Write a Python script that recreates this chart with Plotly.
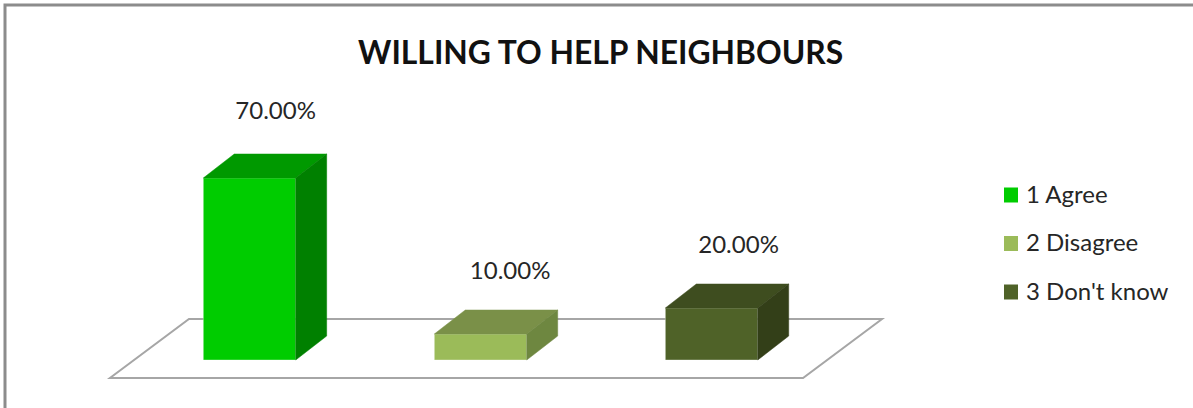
import plotly.graph_objects as go

# Survey responses
categories = ["1 Agree", "2 Disagree", "3 Don't know"]
percentages = [70, 10, 20]
front_colors = ["#00CC00", "#9BBB59", "#4F6228"]
top_colors = ["#009900", "#7A9048", "#3E4D1F"]
side_colors = ["#008000", "#6E8740", "#333F18"]
positions = [1, 2, 3]
chart_title = "WILLING TO HELP NEIGHBOURS"

FIG_W, FIG_H = 1193, 408
BAR_WIDTH = 0.4
DEPTH_X = 0.134   # horizontal reach of the extruded faces, in x units
DEPTH_Y = 9.23    # vertical reach of the extruded faces, in percentage points
X_RANGE = [-0.08, 5.084]
Y_RANGE = [-18.46, 138.46]
LABEL_SHIFT_X = [0.113, 0.128, 0.117]
LABEL_LIFT = [25.0, 23.5, 23.5]
FONT = "Lato, Carlito, Calibri, sans-serif"
GRID = "#A6A6A6"

fig = go.Figure()

# Front faces
for pos, value, name, color in zip(positions, percentages, categories, front_colors):
    fig.add_trace(go.Bar(
        x=[pos], y=[value], width=BAR_WIDTH, name=name,
        marker=dict(color=color, line=dict(color="rgba(255,255,255,0.35)", width=1)),
        hoverinfo="skip", showlegend=False,
    ))

# Extruded top and side faces derived from each bar's value
for pos, value, top, side in zip(positions, percentages, top_colors, side_colors):
    left, right = pos - BAR_WIDTH / 2, pos + BAR_WIDTH / 2
    fig.add_trace(go.Scatter(
        x=[left, right, right + DEPTH_X, left + DEPTH_X, left],
        y=[value, value, value + DEPTH_Y, value + DEPTH_Y, value],
        fill="toself", fillcolor=top, mode="lines", line=dict(color=top, width=0.5),
        hoverinfo="skip", showlegend=False,
    ))
    fig.add_trace(go.Scatter(
        x=[right, right + DEPTH_X, right + DEPTH_X, right, right],
        y=[0, DEPTH_Y, value + DEPTH_Y, value, 0],
        fill="toself", fillcolor=side, mode="lines", line=dict(color=side, width=0.5),
        hoverinfo="skip", showlegend=False,
    ))

# Value labels above each column
fig.add_trace(go.Scatter(
    x=[p + s for p, s in zip(positions, LABEL_SHIFT_X)],
    y=[v + l for v, l in zip(percentages, LABEL_LIFT)],
    text=[f"{v:.2f}%" for v in percentages],
    mode="text", textposition="middle center",
    textfont=dict(family=FONT, size=24, color="#262626"),
    hoverinfo="skip", showlegend=False,
))

# Perspective floor beneath the columns
floor_x = [0.396, 3.396, 3.738, 0.738]
floor_y = [-6.92, -6.92, 15.77, 15.77]
floor_path = "M" + " L".join(f"{x},{y}" for x, y in zip(floor_x, floor_y)) + " Z"
shapes = [dict(type="path", xref="x", yref="y", path=floor_path, layer="below",
               line=dict(color=GRID, width=2), fillcolor="white")]

# Outer chart frame, open past the right and bottom edges of the page
shapes.append(dict(type="rect", xref="paper", yref="paper",
                   x0=5 / FIG_W, x1=1.01, y0=-0.02, y1=1 - 5 / FIG_H, layer="below",
                   line=dict(color="#8C8C8C", width=3), fillcolor="rgba(0,0,0,0)"))

# Key on the right
annotations = []
key_rows = [195, 243.5, 292]
for row, name, color in zip(key_rows, categories, front_colors):
    shapes.append(dict(type="rect", xref="paper", yref="paper",
                       x0=1004 / FIG_W, x1=1018 / FIG_W,
                       y0=1 - (row + 7.5) / FIG_H, y1=1 - (row - 7.5) / FIG_H,
                       fillcolor=color, line=dict(width=0)))
    annotations.append(dict(xref="paper", yref="paper", x=1023.5 / FIG_W, y=1 - (row - 2) / FIG_H,
                            xanchor="left", yanchor="middle", showarrow=False, text=name,
                            font=dict(family=FONT, size=24, color="#262626")))

annotations.append(dict(xref="paper", yref="paper", x=600 / FIG_W, y=1 - 52 / FIG_H,
                        xanchor="center", yanchor="middle", showarrow=False,
                        text=f"<b>{chart_title}</b>",
                        font=dict(family=FONT, size=31.8, color="#111111")))

fig.update_layout(
    width=FIG_W, height=FIG_H,
    margin=dict(l=0, r=0, t=0, b=0),
    paper_bgcolor="white", plot_bgcolor="rgba(0,0,0,0)",
    barmode="overlay", showlegend=False,
    shapes=shapes, annotations=annotations,
    xaxis=dict(range=X_RANGE, visible=False, fixedrange=True),
    yaxis=dict(range=Y_RANGE, visible=False, fixedrange=True),
)

fig.write_html("out.html", config={"displayModeBar": False})
